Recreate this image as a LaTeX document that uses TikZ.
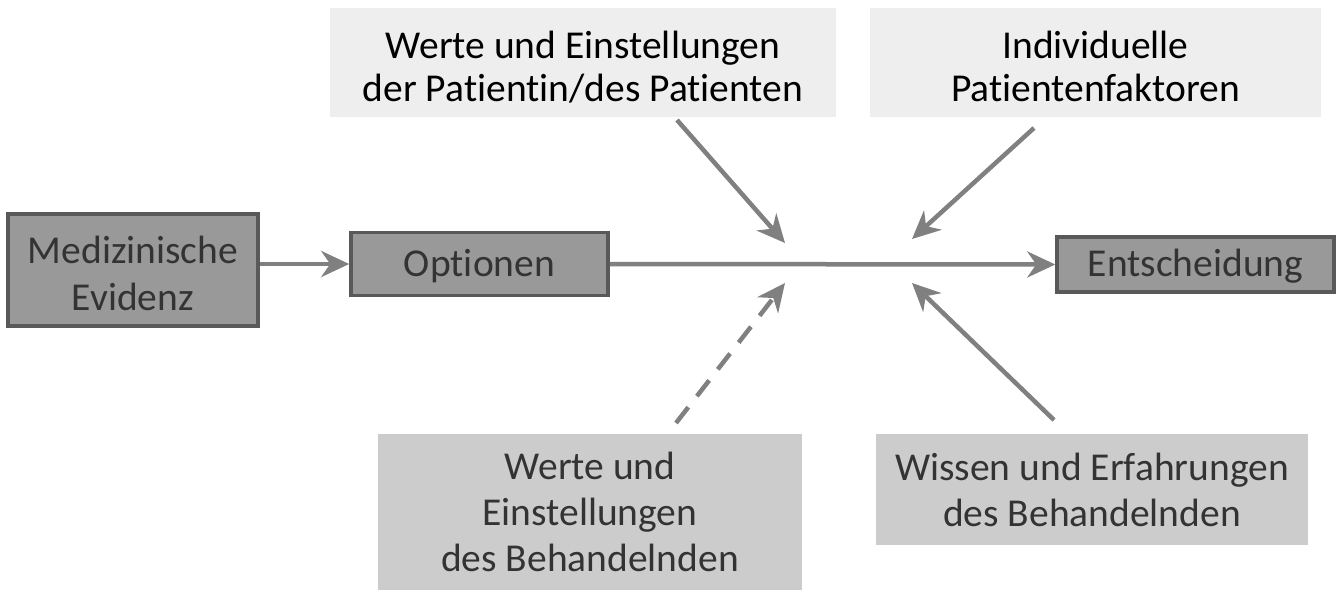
\documentclass[tikz,border=0pt]{standalone}
\usepackage{fontspec}
\setmainfont{Carlito}[Ligatures=NoCommon]
\usetikzlibrary{arrows.meta}
\definecolor{dbox}{HTML}{999999}
\definecolor{dborder}{HTML}{595959}
\definecolor{lbox}{HTML}{EEEEEE}
\definecolor{mbox}{HTML}{CCCCCC}
\definecolor{arr}{HTML}{808080}
\definecolor{txt}{HTML}{333333}
\newcommand{\lowtext}[2]{\raisebox{#1}[\height][\depth]{\begin{tabular}{@{}c@{}}#2\end{tabular}}}
\tikzset{
  darkbox/.style={draw=dborder, line width=3.5pt, fill=dbox, text=txt, inner sep=0pt, align=center, font=\fontsize{39.5}{47}\selectfont},
  lightbox/.style={fill=lbox, text=black, inner sep=0pt, align=center, font=\fontsize{39.5}{43}\selectfont},
  midbox/.style={fill=mbox, text=txt, inner sep=0pt, align=center, font=\fontsize{39.5}{46}\selectfont},
  conn/.style={draw=arr, line width=4.5pt, -{Stealth[length=28pt,width=26pt,inset=9pt]}},
}
\begin{document}
\begin{tikzpicture}[x=1pt,y=-1pt]
\useasboundingbox (0,0) rectangle (1344,590);
\node[darkbox, minimum width=250pt, minimum height=112pt] (med) at (133,270) {\lowtext{-8pt}{Medizinische\\Evidenz}};
\node[darkbox, minimum width=257pt, minimum height=63pt] (opt) at (479.5,264) {\lowtext{-3pt}{Optionen}};
\node[darkbox, minimum width=277pt, minimum height=55pt] (ent) at (1195.5,264.5) {\lowtext{-3pt}{Entscheidung}};
\node[lightbox, minimum width=506pt, minimum height=109pt] (tl) at (583,62.5) {\lowtext{-9pt}{Werte und Einstellungen\\der Patientin/des Patienten}};
\node[lightbox, minimum width=451pt, minimum height=109pt] (tr) at (1095.5,62.5) {\lowtext{-9pt}{Individuelle\\Patientenfaktoren}};
\node[midbox, minimum width=424pt, minimum height=156pt] (bl) at (590,512) {Werte und\\Einstellungen\\des Behandelnden};
\node[midbox, minimum width=432pt, minimum height=111pt] (br) at (1092,489.5) {Wissen und Erfahrungen\\des Behandelnden};
\coordinate (tls) at (677,120);
\coordinate (tle) at (785,243);
\coordinate (trs) at (1034,128);
\coordinate (tre) at (912,239);
\coordinate (bls) at (676,423);
\coordinate (ble) at (785,283);
\coordinate (brs) at (1054,420);
\coordinate (bre) at (912,283);
\draw[conn] (med.east |- opt.west) -- (opt.west);
\draw[conn] (opt.east) -- (ent.west);
\draw[conn] (tls) -- (tle);
\draw[conn] (trs) -- (tre);
\draw[conn, dash pattern=on 20pt off 14pt] (bls) -- (ble);
\draw[conn] (brs) -- (bre);
\end{tikzpicture}
\end{document}
